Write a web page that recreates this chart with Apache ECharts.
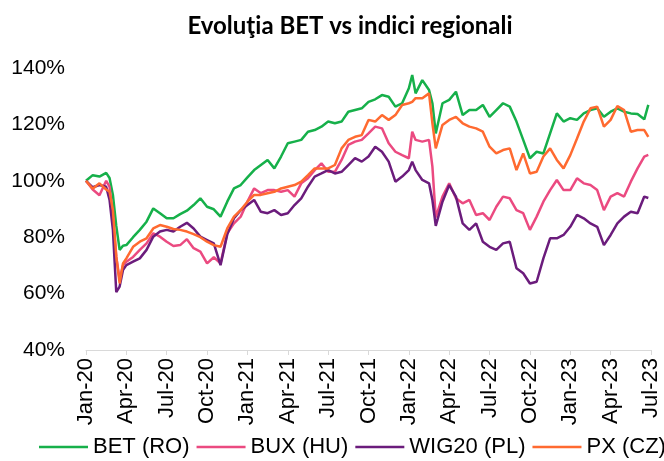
<!DOCTYPE html>
<html>
<head>
<meta charset="utf-8">
<title>Evoluţia BET vs indici regionali</title>
<script src="https://cdn.jsdelivr.net/npm/echarts@6/dist/echarts.min.js"></script>
<style>
  html, body { margin: 0; padding: 0; background: #fff; }
  #mainChart { width: 664px; height: 461px; }
</style>
</head>
<body>
<div id="mainChart"></div>
<script>
// luni de la Jan-20 (0 = ian. 2020)
var months = [0, 0.5, 1, 1.5, 1.75, 2, 2.25, 2.5, 2.75, 3, 3.5, 4, 4.5, 5, 5.5, 6, 6.5, 7, 7.5, 8,
  8.5, 9, 9.5, 10, 10.5, 11, 11.5, 12, 12.5, 13, 13.5, 14, 14.5, 15, 15.5, 16, 16.5, 17, 17.5, 18,
  18.5, 19, 19.5, 20, 20.5, 21, 21.5, 22, 22.5, 23, 23.5, 24, 24.25, 24.5, 25, 25.5, 25.75, 26, 26.5, 27,
  27.5, 28, 28.5, 29, 29.5, 30, 30.5, 31, 31.5, 32, 32.5, 33, 33.5, 34, 34.5, 35, 35.5, 36, 36.5, 37,
  37.5, 38, 38.5, 39, 39.5, 40, 40.5, 41, 41.5, 41.8];

var tickLabels = ['Jan-20', 'Apr-20', 'Jul-20', 'Oct-20', 'Jan-21', 'Apr-21', 'Jul-21', 'Oct-21',
  'Jan-22', 'Apr-22', 'Jul-22', 'Oct-22', 'Jan-23', 'Apr-23', 'Jul-23'];

var bet = [100, 102, 101.5, 102.8, 101, 95, 84, 75.5, 77, 77.2,
  80, 82.6, 85.5, 90.2, 88.5, 86.7, 86.7, 88.2, 89.4, 91.4,
  93.8, 90.8, 89.9, 87.3, 92.6, 97.3, 98.5, 101.2, 103.8, 105.6,
  107.4, 104.4, 108.6, 113.3, 113.9, 114.5, 117.4, 118, 119.2, 121,
  120.4, 121, 124.5, 125.1, 125.7, 128, 128.9, 130.4, 129.8, 126.3,
  127.5, 132.8, 137.5, 131, 135.7, 132.2, 127.5, 116.8, 127.5, 128.7,
  131.6, 123.3, 125.1, 125.1, 126.9, 122.7, 125.1, 127.5, 126.3, 121,
  114.5, 108, 110.3, 109.7, 116.8, 123.9, 121, 122.2, 121.6, 123.9,
  125.1, 125.7, 122.7, 124.5, 125.7, 124.5, 123.9, 123.7, 121.8, 126.9];

var bux = [100, 96.9, 94.9, 100, 97.9, 87.5, 73, 65, 70, 71.3,
  73, 75.5, 77.8, 81.4, 80.2, 78.4, 76.9, 77.2, 79.3, 76.1,
  74.9, 70.7, 72.9, 70.7, 81.4, 84.9, 87.3, 92.6, 97.3, 95.6,
  96.7, 96.7, 96.1, 96.7, 94.4, 99.1, 100.9, 103.8, 106.2, 103.2,
  103.2, 107.4, 112.7, 113.9, 114.5, 116.8, 119.2, 118.6, 113.3, 110.3,
  109.1, 108, 117.4, 114.5, 113.9, 114.5, 105, 87, 94.4, 99.1,
  93.8, 92, 93.2, 87.9, 88.5, 86.1, 90.8, 94.4, 93.8, 89.6,
  88.5, 82.6, 87.3, 92.6, 96.7, 100.3, 96.7, 96.7, 100.9, 99.1,
  98.5, 96.7, 89.6, 94.4, 95.6, 94.4, 99.7, 104.4, 108.6, 109.2];

var wig20 = [100, 97.7, 98.5, 97.9, 93.2, 82.6, 60.5, 62.5, 68.4, 70.1,
  71.3, 72.5, 75.5, 80.2, 82, 82.6, 82, 83.7, 85.1, 83.1,
  80.2, 79, 77.8, 70.1, 81, 86.7, 89.6, 91.4, 93.2, 89,
  88.5, 89.6, 87.9, 88.5, 91.4, 93.8, 97.9, 101.5, 102.6, 103.8,
  102.6, 103.2, 105.6, 108, 106.8, 108.6, 112.1, 110.3, 106.8, 99.7,
  101.5, 103.8, 106.8, 103.8, 100.3, 99.1, 93.2, 84, 92.6, 98.5,
  94.4, 84.9, 82.6, 84.9, 78.4, 76.6, 75.5, 77.8, 78.4, 69,
  67.2, 63.6, 64.2, 72.5, 79.6, 79.6, 80.8, 83.7, 87.9, 86.7,
  84.9, 83.7, 77.2, 80.8, 84.9, 87.3, 89, 88.5, 94.4, 93.9];

var px = [100, 97.2, 99.1, 96.9, 96.1, 89.6, 73.1, 63.6, 70.7, 72.5,
  76.6, 78.4, 79.6, 83.1, 84.3, 83.7, 82.9, 82.6, 82, 81.1,
  80, 78.4, 77.2, 76.6, 83.1, 87.3, 89.6, 92.6, 95, 95,
  95.6, 96.1, 97.3, 97.9, 98.5, 99.7, 102, 104.4, 104.4, 104.4,
  105.6, 111.5, 114.5, 115.6, 116.2, 121.6, 121, 123.3, 121.6, 123.3,
  126.9, 127.5, 128, 129.3, 129.3, 131, 120.4, 111.5, 119.8, 121.6,
  122.7, 120.4, 119.2, 118.6, 117.4, 112.1, 109.7, 110.9, 111.5, 103.8,
  109.7, 102.6, 103.2, 108.6, 111.5, 107.4, 104.4, 109.1, 115, 121,
  125.7, 126.3, 119.2, 121.6, 126.5, 125.1, 117.4, 118, 118, 115.6];

var seriesNames = ['BET (RO)', 'BUX (HU)', 'WIG20 (PL)', 'PX (CZ)'];
var seriesColors = ['#16b04a', '#eb4a80', '#6b1c7c', '#ff6a30'];

function pairs(values) {
  return months.map(function (m, i) { return [m, values[i]]; });
}

function lineSeries(idx, values) {
  return {
    name: seriesNames[idx],
    type: 'line',
    data: pairs(values),
    showSymbol: false,
    symbol: 'none',
    lineStyle: { width: 2.5, color: seriesColors[idx] },
    itemStyle: { color: seriesColors[idx] }
  };
}

var option = {
  animation: false,
  color: seriesColors,
  title: {
    text: 'Evoluţia BET vs indici regionali',
    left: 345,
    textAlign: 'center',
    top: 9,
    textStyle: {
      fontFamily: 'Lato',
      fontWeight: 'bold',
      fontSize: 24,
      color: '#000'
    }
  },
  legend: {
    data: seriesNames,
    left: 34,
    width: 630,
    top: 431,
    icon: 'rect',
    itemWidth: 49,
    itemHeight: 2.5,
    itemGap: 7,
    textStyle: { fontFamily: 'Liberation Sans', fontSize: 22, color: '#000' }
  },
  grid: {
    left: 86,
    right: 13,
    top: 68,
    bottom: 111
  },
  xAxis: {
    type: 'value',
    min: 0,
    max: 42,
    interval: 3,
    splitLine: { show: false },
    axisLine: { show: true, lineStyle: { color: '#d9d9d9', width: 1 } },
    axisTick: { show: true, length: 5, lineStyle: { color: '#d9d9d9' } },
    axisLabel: {
      rotate: 90,
      margin: 8,
      fontFamily: 'Liberation Sans',
      fontSize: 22,
      color: '#000',
      formatter: function (v) {
        return tickLabels[Math.round(v / 3)];
      }
    }
  },
  yAxis: {
    type: 'value',
    min: 40,
    max: 140,
    interval: 20,
    splitLine: { show: false },
    axisLine: { show: false },
    axisTick: { show: false },
    axisLabel: {
      margin: 21,
      fontFamily: 'Liberation Sans',
      fontSize: 21,
      color: '#000',
      formatter: '{value}%'
    }
  },
  series: [
    lineSeries(0, bet),
    lineSeries(1, bux),
    lineSeries(2, wig20),
    lineSeries(3, px)
  ]
};

var chart = echarts.init(document.getElementById('mainChart'));
chart.setOption(option);
</script>
</body>
</html>
